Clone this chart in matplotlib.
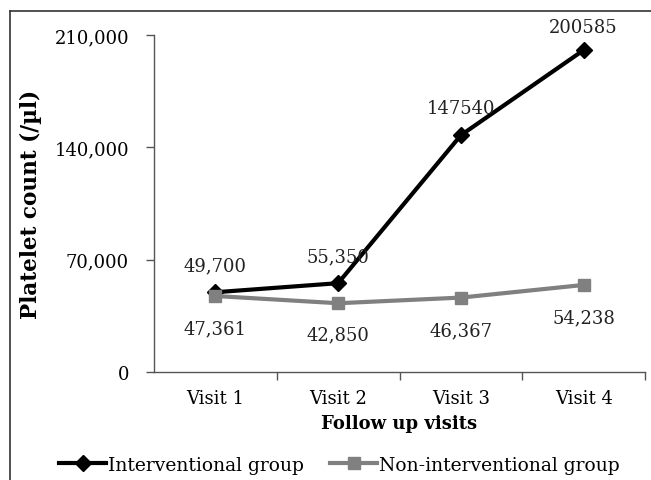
import matplotlib.pyplot as plt
from matplotlib.lines import Line2D
from matplotlib.ticker import FuncFormatter

visits = ['Visit 1', 'Visit 2', 'Visit 3', 'Visit 4']
interventional = [49700, 55350, 147540, 200585]
non_interventional = [47361, 42850, 46367, 54238]
lab_int = ['49,700', '55,350', '147540', '200585']
lab_non = ['47,361', '42,850', '46,367', '54,238']

plt.rcParams['font.family'] = 'DejaVu Serif'

fig = plt.figure(figsize=(6.51, 4.81), dpi=100)
ax = fig.add_axes([154 / 651, 1 - 373 / 481, (645 - 154) / 651, (373 - 36) / 481])

x = range(len(visits))
ax.plot(x, interventional, color='black', lw=3, marker='D', ms=8.5,
        label='Interventional group', zorder=3)
ax.plot(x, non_interventional, color='#808080', lw=3, marker='s', ms=9,
        label='Non-interventional group', zorder=4)

# value labels
off_int = [13, 13, 13, 10]
for i, (v, t) in enumerate(zip(interventional, lab_int)):
    ax.annotate(t, (i, v), xytext=(0, off_int[i]), textcoords='offset points',
                ha='center', va='bottom', fontsize=13, color='#222222')
off_non = [-17, -16, -17, -17]
for i, (v, t) in enumerate(zip(non_interventional, lab_non)):
    ax.annotate(t, (i, v), xytext=(0, off_non[i]), textcoords='offset points',
                ha='center', va='top', fontsize=13, color='#222222')

ax.set_xlim(-0.5, 3.5)
ax.set_ylim(0, 210000)
ax.set_yticks([0, 70000, 140000, 210000])
ax.yaxis.set_major_formatter(FuncFormatter(lambda v, p: f'{int(v):,}'))
ax.set_xticks(x)
ax.set_xticklabels(visits)
ax.set_xticks([0.5, 1.5, 2.5, 3.5], minor=True)
ax.tick_params(axis='x', which='major', length=0, pad=12, labelsize=13)
ax.tick_params(axis='x', which='minor', length=6, width=1, color='#555555')
ax.tick_params(axis='y', length=6, width=1, color='#555555', pad=12, labelsize=13)

for s in ['top', 'right']:
    ax.spines[s].set_visible(False)
for s in ['left', 'bottom']:
    ax.spines[s].set_color('#555555')
    ax.spines[s].set_linewidth(1)

ax.set_xlabel('Follow up visits', fontweight='bold', fontsize=13, labelpad=5)
ax.set_ylabel('Platelet count (/\u00b5l)', fontweight='bold', fontsize=15.5, labelpad=9)

fig.legend(handles=ax.get_lines(), loc='lower left', bbox_to_anchor=(48 / 651, -0.01),
           ncol=2, frameon=False, fontsize=13.5, handlelength=2.5,
           handletextpad=0.1, columnspacing=1.4, borderaxespad=0.2)

# outer frame on left and top
fig.add_artist(Line2D([10 / 651, 10 / 651], [0, 1 - 12 / 481], color='#333333', lw=1.2))
fig.add_artist(Line2D([10 / 651, 1], [1 - 12 / 481, 1 - 12 / 481], color='#333333', lw=1.2))

fig.savefig('out.png', dpi=100)
